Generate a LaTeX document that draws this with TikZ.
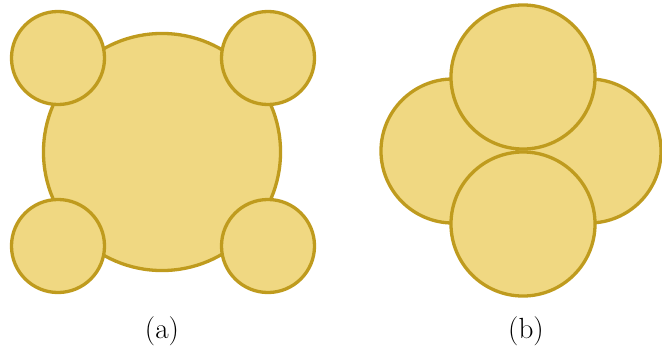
\documentclass[tikz,border=0pt]{standalone}
\usepackage{tikz}
\usetikzlibrary{positioning}
\definecolor{blobfill}{HTML}{F0D882}
\definecolor{blobline}{HTML}{BF9B1E}
\tikzset{
  blob/.style    = {circle, draw=blobline, fill=blobfill, line width=2.35pt,
                    inner sep=0pt},
  bigblob/.style = {blob, minimum size=5.925cm},
  lobe/.style    = {blob, minimum size=2.325cm},
  petal/.style   = {blob, minimum size=3.6cm},
  caption/.style = {font=\huge, anchor=base, inner sep=0pt},
}

\begin{document}
\begin{tikzpicture}[x=0.025cm, y=-0.025cm]
  \useasboundingbox (0,0) rectangle (662,356);

  % ----- (a): one big circle with four small ones -----
  \node[bigblob] (core) at (162,152) {};
  \node[lobe] (nw) at (58,58) {};
  \node[lobe] (ne) at (268,58) {};
  \node[lobe] (sw) at (58,246) {};
  \node[lobe] (se) at (268,246) {};

  % ----- (b): four overlapping circles -----
  \node[petal] (pleft)  at (453,151) {};
  \node[petal] (pright) at (589,151) {};
  \node[petal] (ptop)   at (523,77) {};
  \node[petal] (pbot)   at (523,224) {};

  % ----- captions -----
  \node[caption] (capa) at (162,338) {(a)};
  \node[caption] (capb) at (526,338) {(b)};
\end{tikzpicture}
\end{document}
